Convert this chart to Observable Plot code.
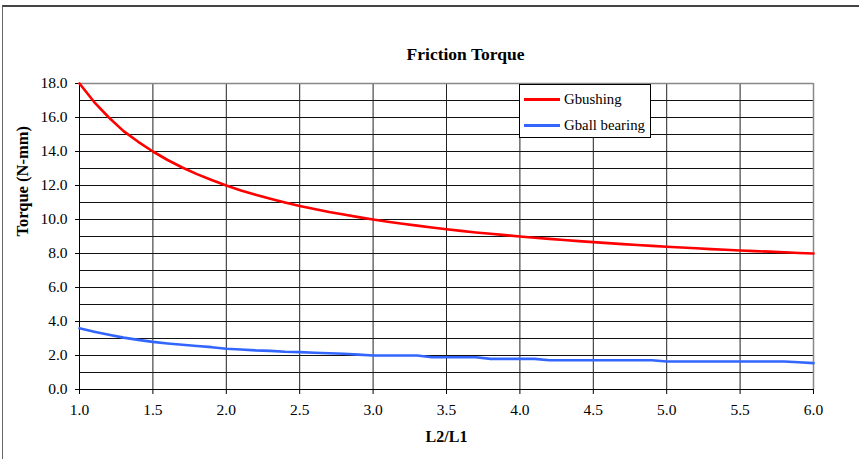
<!DOCTYPE html>
<html>
<head>
<meta charset="utf-8">
<script src="https://cdn.jsdelivr.net/npm/d3@7"></script>
<script src="https://cdn.jsdelivr.net/npm/@observablehq/plot@0.6"></script>
<style>
  body { margin: 0; background: #fff; }
  #wrap { position: relative; width: 859px; height: 459px; overflow: hidden; font-family: "Liberation Serif", "Times New Roman", serif; }
  #chart svg text { font-family: "Liberation Serif", "Times New Roman", serif !important; }
  #chart svg g[aria-label*="tick label"] text { font-size: 15.5px !important; fill: #000 !important; }
  #frame { position: absolute; left: 2px; top: 5px; width: 870px; height: 470px; border-top: 2px solid #444; border-left: 1px solid #666; pointer-events: none; }
  #legend { position: absolute; left: 519px; top: 84px; width: 130px; height: 52px; border: 1px solid #000; background: #fff; font-size: 14.8px; }
  #legend .row { position: absolute; left: 4px; height: 16px; display: flex; align-items: center; }
  #legend .sw { width: 36px; height: 3px; margin-right: 4px; }
</style>
</head>
<body>
<div id="wrap">
  <div id="chart"></div>
  <div id="frame"></div>
  <div id="legend">
    <div class="row" style="top:6px"><div class="sw" style="background:#ff0000"></div><span>Gbushing</span></div>
    <div class="row" style="top:32px"><div class="sw" style="background:#3366ff"></div><span>Gball bearing</span></div>
  </div>
</div>
<script>
const title = "Friction Torque";
const xLabel = "L2/L1";
const yLabel = "Torque (N-mm)";
const seriesNames = ["Gbushing", "Gball bearing"];

const ratio = [1.0,1.1,1.2,1.3,1.4,1.5,1.6,1.7,1.8,1.9,2.0,2.1,2.2,2.3,2.4,2.5,2.6,2.7,2.8,2.9,3.0,3.1,3.2,3.3,3.4,3.5,3.6,3.7,3.8,3.9,4.0,4.1,4.2,4.3,4.4,4.5,4.6,4.7,4.8,4.9,5.0,5.1,5.2,5.3,5.4,5.5,5.6,5.7,5.8,5.9,6.0];
const gBushing = [18.0,16.91,16.0,15.2,14.57,14.0,13.5,13.06,12.67,12.32,12.0,11.71,11.45,11.22,11.0,10.8,10.62,10.44,10.29,10.14,10.0,9.87,9.75,9.64,9.53,9.43,9.33,9.24,9.16,9.08,9.0,8.93,8.86,8.79,8.73,8.67,8.61,8.55,8.5,8.45,8.4,8.35,8.31,8.26,8.22,8.18,8.14,8.11,8.07,8.03,8.0];
const gBall = [3.6,3.4,3.22,3.05,2.92,2.8,2.71,2.63,2.56,2.49,2.4,2.35,2.3,2.27,2.22,2.2,2.16,2.13,2.1,2.05,2.0,2.0,2.0,2.0,1.9,1.9,1.9,1.9,1.8,1.8,1.8,1.8,1.72,1.72,1.72,1.72,1.72,1.72,1.72,1.72,1.65,1.65,1.65,1.65,1.65,1.65,1.65,1.65,1.65,1.6,1.55];

const xTicks = [1.0,1.5,2.0,2.5,3.0,3.5,4.0,4.5,5.0,5.5,6.0];
const yTicks = [0,2,4,6,8,10,12,14,16,18];
const yGrid = [1,2,3,4,5,6,7,8,9,10,11,12,13,14,15,16,17];
const xGrid = [1.5,2.0,2.5,3.0,3.5,4.0,4.5,5.0,5.5];

const data = [
  ...ratio.map((r, i) => ({x: r, y: gBushing[i], s: seriesNames[0]})),
  ...ratio.map((r, i) => ({x: r, y: gBall[i], s: seriesNames[1]}))
];

const chart = Plot.plot({
  width: 859,
  height: 459,
  marginLeft: 79,
  marginRight: 46,
  marginTop: 83,
  marginBottom: 70,
  style: {fontFamily: "'Liberation Serif', 'Times New Roman', serif", fontSize: "15px", color: "#000", background: "#fff"},
  x: {domain: [1, 6]},
  y: {domain: [0, 18]},
  color: {domain: seriesNames, range: ["#ff0000", "#3366ff"]},
  marks: [
    Plot.ruleY(yGrid, {stroke: "#111", strokeWidth: 1}),
    Plot.ruleX(xGrid, {stroke: "#222", strokeWidth: 1}),
    Plot.ruleY([18], {stroke: "#888", strokeWidth: 1.5}),
    Plot.ruleX([6], {stroke: "#888", strokeWidth: 1.5}),
    Plot.ruleY([0], {stroke: "#000", strokeWidth: 1}),
    Plot.ruleX([1], {stroke: "#000", strokeWidth: 1}),
    Plot.axisX({ticks: xTicks, tickFormat: d3.format(".1f"), tickSize: 5, tickPadding: 9, label: null, stroke: "#000", fill: "#000", fontSize: 15.5}),
    Plot.axisY({ticks: yTicks, tickFormat: d3.format(".1f"), tickSize: 4, tickPadding: 8, label: null, stroke: "#000", fill: "#000", fontSize: 15.5}),
    Plot.line(data, {x: "x", y: "y", z: "s", stroke: "s", strokeWidth: 2.6, strokeLinejoin: "round", curve: "linear"}),
    Plot.text([title], {frameAnchor: "top", dx: 19, dy: -36, fontSize: 17.5, fontWeight: "bold"}),
    Plot.text([xLabel], {frameAnchor: "bottom", dy: 52, fontSize: 16, fontWeight: "bold"}),
    Plot.text([yLabel], {frameAnchor: "left", dx: -57, rotate: -90, fontSize: 16.5, fontWeight: "bold"})
  ]
});
document.getElementById("chart").appendChild(chart);
</script>
</body>
</html>
